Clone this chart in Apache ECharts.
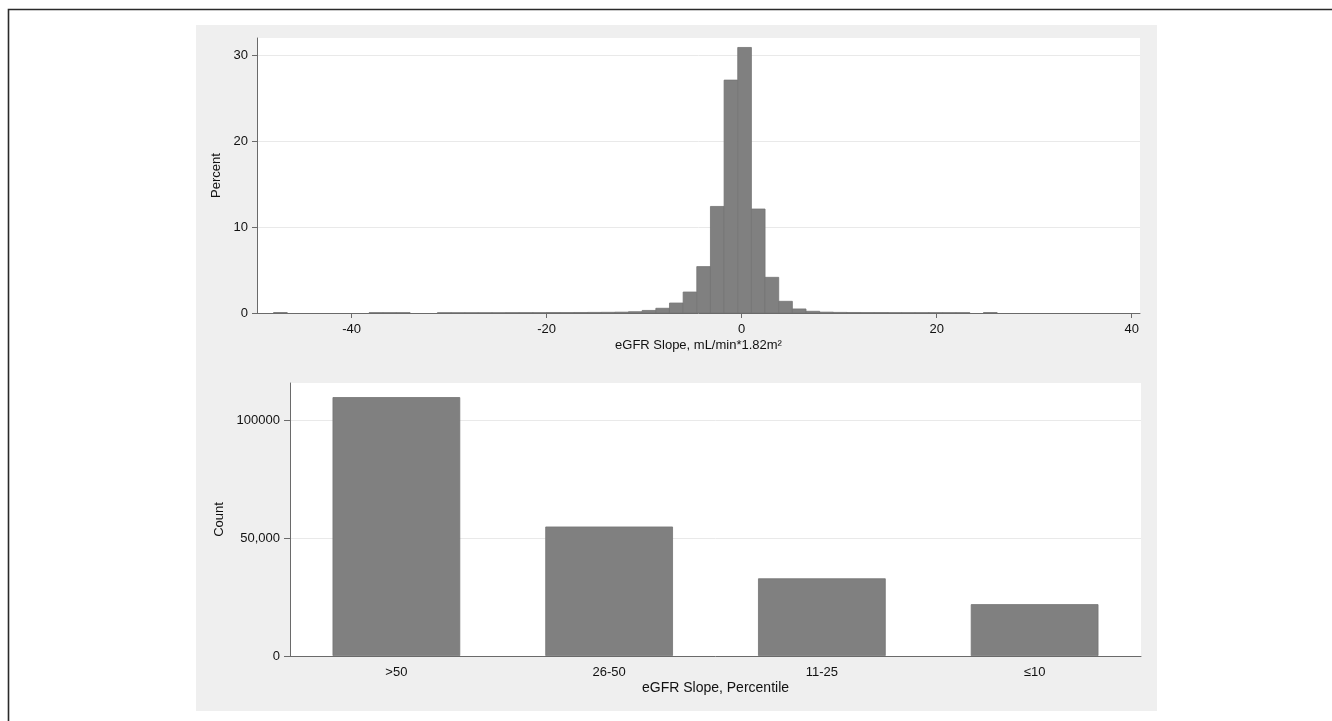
<!DOCTYPE html>
<html>
<head>
<meta charset="utf-8">
<script src="https://cdn.jsdelivr.net/npm/echarts@6.0.0/dist/echarts.min.js"></script>
<style>
html,body{margin:0;padding:0;background:#fff;}
#chart{width:1332px;height:721px;}
</style>
</head>
<body>
<div id="chart"></div>
<script>
// ---- Top histogram data (eGFR slope bins, percent) ----
var binLow  = [-48.0, -38.2, -36.8, -35.4, -31.2, -29.8, -28.4, -27.0, -25.6, -24.2, -22.8, -21.4, -20.0, -18.6, -17.2, -15.8, -14.4, -13.0, -11.6, -10.2, -8.8, -7.4, -6.0, -4.6, -3.2, -1.8, -0.4, 1.0, 2.4, 3.8, 5.2, 6.6, 8.0, 9.4, 10.8, 12.2, 13.6, 15.0, 16.4, 17.8, 19.2, 20.6, 22.0, 24.8];
var binHigh = [-46.6, -36.8, -35.4, -34.0, -29.8, -28.4, -27.0, -25.6, -24.2, -22.8, -21.4, -20.0, -18.6, -17.2, -15.8, -14.4, -13.0, -11.6, -10.2, -8.8, -7.4, -6.0, -4.6, -3.2, -1.8, -0.4, 1.0, 2.4, 3.8, 5.2, 6.6, 8.0, 9.4, 10.8, 12.2, 13.6, 15.0, 16.4, 17.8, 19.2, 20.6, 22.0, 23.4, 26.2];
var percent = [0.05, 0.04, 0.04, 0.04, 0.03, 0.03, 0.03, 0.03, 0.03, 0.04, 0.04, 0.04, 0.05, 0.05, 0.06, 0.07, 0.08, 0.10, 0.15, 0.30, 0.55, 1.16, 2.44, 5.4, 12.4, 27.1, 30.9, 12.1, 4.15, 1.36, 0.47, 0.20, 0.10, 0.07, 0.06, 0.05, 0.05, 0.04, 0.04, 0.04, 0.04, 0.04, 0.04, 0.05];
var topXTicks = [-40, -20, 0, 20, 40];
var topYTicks = [0, 10, 20, 30];

// ---- Bottom bar chart data ----
var categories = ['>50', '26-50', '11-25', '\u226410'];
var counts = [110000, 55000, 33000, 22000];
var bottomYTicks = [0, 50000, 100000];
var bottomYTickLabels = ['0', '50,000', '100000'];

var histData = binLow.map(function (lo, i) { return [lo, binHigh[i], percent[i]]; });

var FONT = 'Liberation Sans, Arial, sans-serif';
var BAR = '#808080';
var BAR_EDGE = '#737373';
var AXIS = '#6a6a6a';
var GRIDLINE = '#e9e9e9';

function renderHist(params, api) {
  var p0 = api.coord([api.value(0), api.value(2)]);
  var p1 = api.coord([api.value(1), 0]);
  return {
    type: 'rect',
    shape: { x: p0[0], y: p0[1], width: p1[0] - p0[0], height: p1[1] - p0[1] },
    style: { fill: BAR, stroke: BAR_EDGE, lineWidth: 0.8 }
  };
}

var chart = echarts.init(document.getElementById('chart'), null, { renderer: 'canvas' });
chart.setOption({
  animation: false,
  backgroundColor: '#ffffff',
  textStyle: { fontFamily: FONT },
  graphic: [
    { type: 'rect', z: -10, silent: true, shape: { x: 196, y: 25, width: 961, height: 686 }, style: { fill: '#efefef' } },
    { type: 'rect', z: 100, silent: true, shape: { x: 8.5, y: 9.5, width: 1400, height: 800 }, style: { fill: 'none', stroke: '#2a2a2a', lineWidth: 1.6 } }
  ],
  grid: [
    { left: 257, top: 38, width: 883, height: 275, show: true, backgroundColor: '#ffffff', borderWidth: 0, containLabel: false },
    { left: 290, top: 383, width: 851, height: 273, show: true, backgroundColor: '#ffffff', borderWidth: 0, containLabel: false }
  ],
  xAxis: [
    {
      gridIndex: 0, type: 'value', min: -49.7, max: 40.85,
      name: 'eGFR Slope, mL/min*1.82m\u00b2', nameLocation: 'middle', nameGap: 26,
      nameTextStyle: { fontSize: 13, color: '#111', fontFamily: FONT },
      axisLine: { show: true, onZero: false, lineStyle: { color: AXIS, width: 1 } },
      axisTick: { show: true, inside: false, length: 5, customValues: topXTicks, lineStyle: { color: AXIS } },
      axisLabel: { customValues: topXTicks, margin: 10, fontSize: 13, color: '#111', fontFamily: FONT },
      splitLine: { show: false }
    },
    {
      gridIndex: 1, type: 'category', data: categories,
      name: 'eGFR Slope, Percentile', nameLocation: 'middle', nameGap: 25,
      nameTextStyle: { fontSize: 14, color: '#111', fontFamily: FONT },
      axisLine: { show: true, onZero: false, lineStyle: { color: AXIS, width: 1 } },
      axisTick: { show: false },
      axisLabel: { margin: 10, fontSize: 13, color: '#111', fontFamily: FONT },
      splitLine: { show: false }
    }
  ],
  yAxis: [
    {
      gridIndex: 0, type: 'value', min: 0, max: 32,
      name: 'Percent', nameLocation: 'middle', nameGap: 26, nameRotate: 90,
      nameTextStyle: { fontSize: 13, color: '#111', fontFamily: FONT },
      axisLine: { show: true, onZero: false, lineStyle: { color: AXIS, width: 1 } },
      axisTick: { show: true, inside: false, length: 5, customValues: topYTicks, lineStyle: { color: AXIS } },
      axisLabel: { customValues: topYTicks, margin: 9, fontSize: 13, color: '#111', fontFamily: FONT },
      splitLine: { show: true, lineStyle: { color: GRIDLINE, width: 1 } }
    },
    {
      gridIndex: 1, type: 'value', min: 0, max: 116000,
      name: 'Count', nameLocation: 'middle', nameGap: 60, nameRotate: 90,
      nameTextStyle: { fontSize: 13, color: '#111', fontFamily: FONT },
      axisLine: { show: true, onZero: false, lineStyle: { color: AXIS, width: 1 } },
      axisTick: { show: true, inside: false, length: 6, customValues: bottomYTicks, lineStyle: { color: AXIS } },
      axisLabel: {
        customValues: bottomYTicks, margin: 10, fontSize: 13, color: '#111', fontFamily: FONT,
        formatter: function (v) { var i = bottomYTicks.indexOf(v); return i >= 0 ? bottomYTickLabels[i] : ''; }
      },
      splitLine: { show: true, lineStyle: { color: GRIDLINE, width: 1 } }
    }
  ],
  series: [
    {
      type: 'custom', xAxisIndex: 0, yAxisIndex: 0,
      renderItem: renderHist, encode: { x: [0, 1], y: 2 },
      data: histData, clip: true
    },
    {
      type: 'bar', xAxisIndex: 1, yAxisIndex: 1,
      data: counts, barCategoryGap: '40%',
      itemStyle: { color: BAR, borderColor: BAR_EDGE, borderWidth: 0.8 }
    }
  ]
});
</script>
</body>
</html>
